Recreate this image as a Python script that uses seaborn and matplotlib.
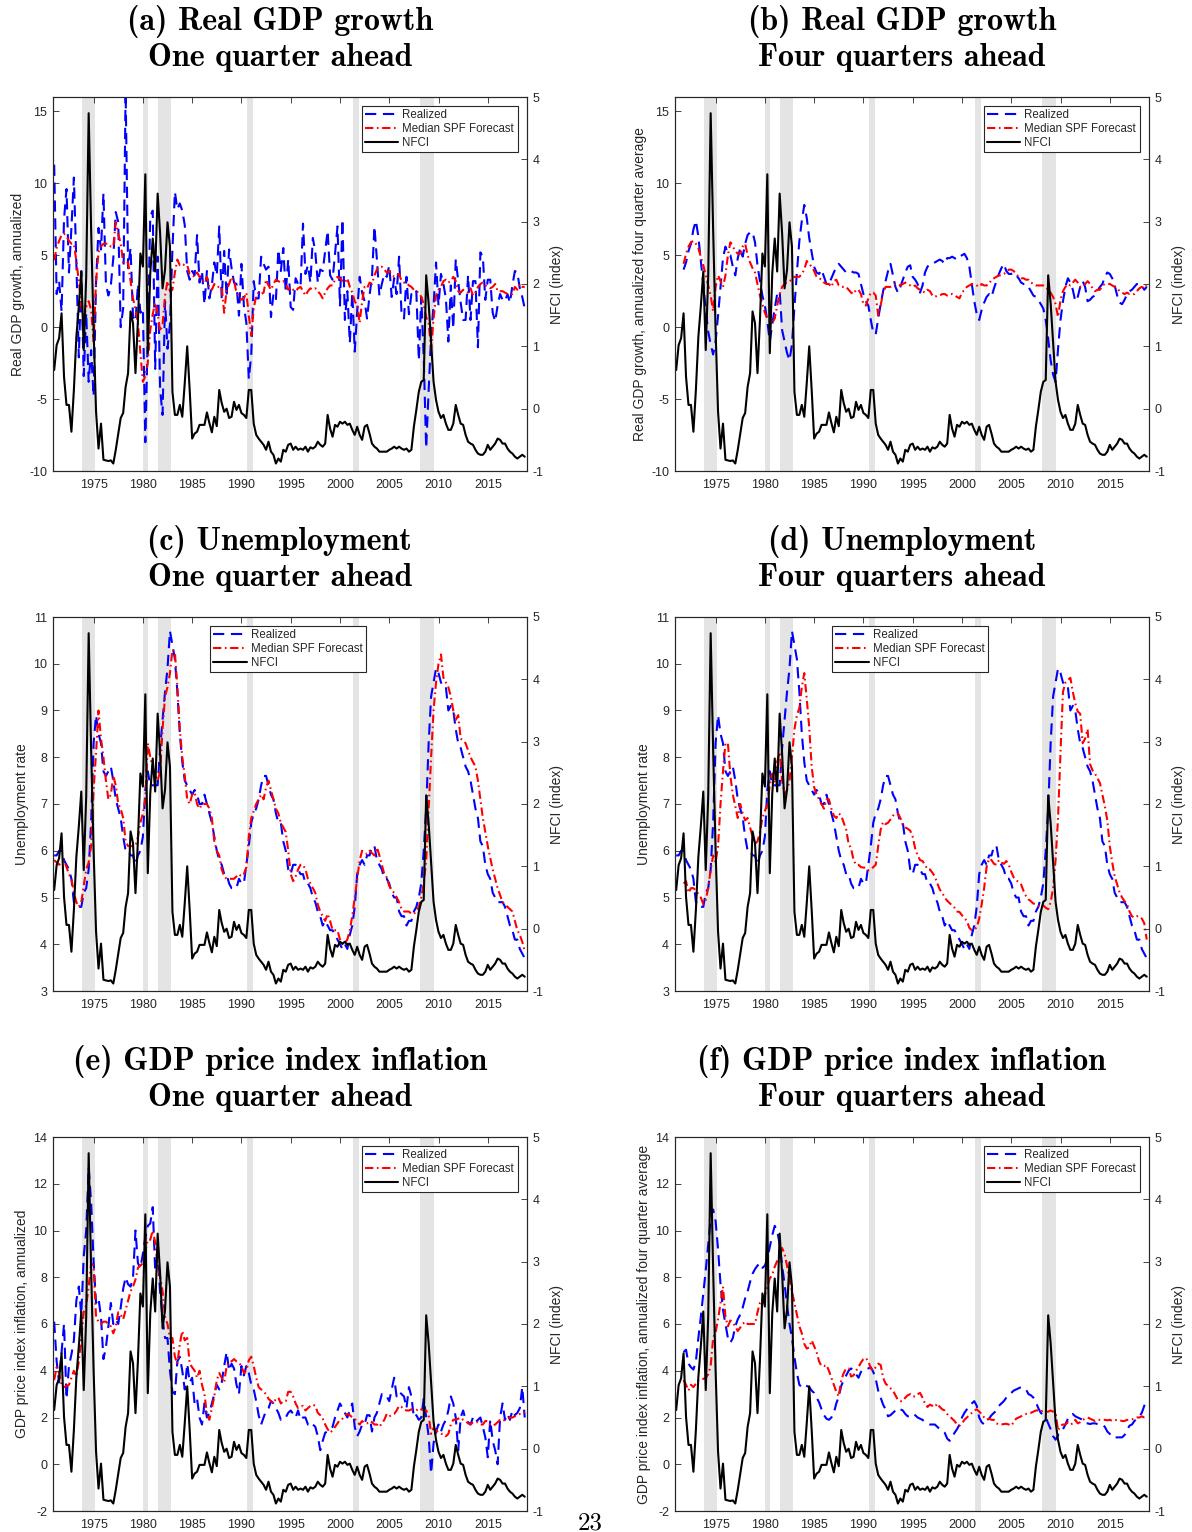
import numpy as np
import matplotlib
matplotlib.use("Agg")
import matplotlib.pyplot as plt
import seaborn as sns
from matplotlib.lines import Line2D

nan = np.nan
START_YEAR = 1971  # first quarter 1971Q1, quarterly data through 2018Q4

# ---------------- data (one row per year, 4 quarters) ----------------
NFCI = [
    0.62, 1.02, 1.13, 1.53,   0.51, 0.06, 0.06, -0.37,
    0.30, 1.15, 1.64, 2.20,   0.94, 2.12, 4.74, 2.87,
    1.26, -0.05, -0.64, -0.24, -0.82, -0.83, -0.84, -0.83,
    -0.88, -0.66, -0.40, -0.15, -0.07, 0.35, 0.57, 1.56,
    1.37, 0.57, 1.42, 2.49,   2.28, 3.76, 0.89, 2.17,
    2.73, 2.20, 3.45, 2.81,   1.93, 2.23, 2.99, 2.60,
    0.27, -0.10, -0.10, 0.06, -0.13, 0.41, 1.00, 0.30,
    -0.48, -0.40, -0.37, -0.26, -0.26, -0.26, -0.06, -0.23,
    -0.38, -0.13, -0.28, 0.30, 0.09, -0.05, 0.00, -0.15,
    -0.13, 0.11, -0.02, 0.06, -0.07, -0.10, -0.15, 0.30,
    0.30, -0.24, -0.42, -0.48, -0.53, -0.58, -0.66, -0.53,
    -0.69, -0.74, -0.88, -0.80, -0.85, -0.66, -0.69, -0.58,
    -0.56, -0.66, -0.61, -0.66, -0.64, -0.66, -0.61, -0.69,
    -0.62, -0.64, -0.61, -0.53, -0.58, -0.61, -0.56, -0.10,
    -0.32, -0.45, -0.26, -0.29, -0.21, -0.24, -0.21, -0.26,
    -0.24, -0.34, -0.42, -0.29, -0.42, -0.50, -0.29, -0.26,
    -0.40, -0.56, -0.61, -0.64, -0.69, -0.69, -0.69, -0.69,
    -0.66, -0.64, -0.61, -0.64, -0.61, -0.64, -0.66, -0.64,
    -0.69, -0.66, -0.29, -0.02, 0.27, 0.43, 0.46, 2.14,
    1.69, 1.05, 0.43, 0.14,   -0.05, -0.15, -0.10, -0.24,
    -0.34, -0.34, -0.24, 0.06, -0.10, -0.24, -0.26, -0.42,
    -0.53, -0.56, -0.58, -0.66, -0.72, -0.74, -0.74, -0.69,
    -0.58, -0.66, -0.61, -0.56, -0.48, -0.50, -0.56, -0.56,
    -0.64, -0.69, -0.72, -0.77, -0.80, -0.77, -0.74, -0.77,
]

GDP_REALIZED_1Q = [
    11.3, 2.3, 3.2, 1.1,   7.5, 9.6, 3.8, 6.9,
    10.4, 4.5, -2.1, 3.9,  -3.4, 1.0, -3.8, -1.6,
    -4.8, 3.1, 6.9, 5.4,   9.3, 3.0, 2.2, 2.9,
    4.8, 8.0, 7.3, 0.0,    1.3, 16.4, 4.1, 5.5,
    0.7, 0.4, 3.0, 1.0,    1.3, -8.0, -0.5, 7.7,
    8.1, -2.9, 4.9, -4.3,  -6.1, 1.8, -1.5, 0.2,
    5.4, 9.4, 8.2, 8.6,    8.1, 7.1, 3.9, 3.3,
    3.9, 3.6, 6.4, 3.1,    3.9, 1.6, 3.9, 2.0,
    2.9, 4.5, 3.6, 7.0,    2.0, 5.3, 2.1, 5.4,
    4.1, 3.1, 3.0, 0.8,    4.4, 1.5, 0.3, -3.6,
    -1.9, 3.2, 2.0, 2.0,   4.9, 4.4, 4.0, 4.2,
    0.7, 2.3, 1.9, 5.4,    3.9, 5.5, 2.4, 4.7,
    1.4, 1.2, 3.4, 3.0,    2.8, 7.2, 3.7, 4.3,
    3.1, 6.2, 5.2, 3.1,    4.0, 3.9, 5.3, 6.7,
    3.6, 3.3, 5.1, 7.0,    1.5, 7.5, 0.5, 2.5,
    -1.1, 2.4, -1.7, 1.1,  3.5, 2.4, 1.8, 0.6,
    2.2, 3.5, 7.0, 4.7,    2.2, 3.0, 3.7, 3.5,
    4.3, 2.1, 3.4, 2.3,    4.9, 0.9, 0.6, 3.5,
    0.9, 2.3, 2.2, 2.5,    -2.3, 2.1, -2.1, -8.4,
    -4.4, -0.6, 1.5, 4.5,  1.5, 3.7, 3.0, 2.0,
    -1.0, 2.9, -0.1, 4.7,  3.2, 1.7, 0.5, 0.5,
    3.6, 0.5, 3.2, 3.2,    -1.4, 5.2, 4.9, 1.9,
    3.3, 3.3, 1.0, 0.4,    1.5, 2.3, 1.9, 1.8,
    2.3, 1.7, 2.9, 3.9,    3.8, 2.7, 2.1, 1.3,
]

GDP_SPF_1Q = [
    4.65, 5.5, 6.0, 6.4,   6.5, 6.3, 6.0, 5.8,
    5.8, 4.6, 3.2, 1.5,    0.6, 1.4, 1.8, 1.2,
    -1.0, 3.2, 5.2, 5.6,   5.8, 5.8, 5.8, 5.6,
    5.6, 7.3, 6.5, 5.8,    4.5, 4.4, 4.5, 3.2,
    2.0, 1.2, 0.3, -1.8,   -3.8, -3.4, -2.5, -0.2,
    0.9, 1.7, 1.0, -0.3,   0.2, 2.2, 3.2, 2.5,
    2.6, 3.8, 4.7, 4.3,    4.4, 4.3, 4.3, 3.7,
    3.6, 3.5, 3.8, 3.5,    3.3, 3.1, 3.5, 2.7,
    2.6, 3.0, 2.8, 2.8,    2.8, 1.0, 2.6, 3.0,
    3.5, 3.2, 2.4, 2.2,    1.9, 2.0, 2.4, 0.8,
    -0.6, 1.3, 2.2, 2.4,   2.3, 2.4, 3.3, 2.9,
    2.6, 3.0, 3.3, 3.2,    3.1, 3.2, 3.0, 2.6,
    2.8, 2.6, 2.5, 2.7,    2.8, 2.5, 2.2, 2.5,
    2.7, 2.6, 2.7, 2.5,    2.3, 2.0, 2.4, 2.7,
    2.9, 2.9, 3.3, 3.5,    3.4, 3.2, 3.1, 3.4,
    2.8, 2.4, 1.8, 1.5,    0.3, 1.8, 2.8, 2.7,
    3.1, 3.0, 3.6, 4.0,    4.2, 4.2, 4.0, 3.8,
    3.9, 3.7, 3.5, 3.6,    3.7, 3.2, 3.1, 3.1,
    2.9, 2.8, 2.6, 2.5,    2.4, 2.1, 1.6, 0.7,
    0.3, -1.5, 0.6, 2.2,   2.6, 2.8, 3.2, 3.3,
    3.1, 3.2, 3.5, 3.2,    2.5, 2.4, 2.6, 2.5,
    2.4, 2.7, 2.2, 2.4,    2.8, 3.0, 3.1, 2.9,
    2.8, 2.7, 2.8, 3.0,    2.5, 2.5, 2.5, 2.4,
    2.3, 2.3, 2.3, 2.8,    2.6, 3.0, 2.8, 2.8,
]

GDP_REALIZED_4Q = [
    nan, nan, nan, 4.0,    4.5, 5.3, 5.8, 6.8,
    7.4, 6.3, 4.6, 3.0,    1.2, -0.3, -1.2, -1.9,
    -1.0, 0.8, 2.8, 4.8,   5.6, 5.1, 5.0, 4.2,
    3.6, 4.8, 5.5, 4.9,    5.8, 6.4, 6.6, 6.6,
    5.9, 4.3, 3.2, 2.2,    1.5, 0.4, -1.0, 0.2,
    1.3, 2.3, 2.5, -0.2,   -1.0, -1.8, -2.3, -1.2,
    1.4, 3.8, 6.0, 7.4,    8.5, 7.6, 6.2, 5.2,
    4.2, 3.8, 3.7, 4.0,    3.5, 3.0, 3.0, 3.4,
    3.8, 4.2, 4.4, 4.2,    4.0, 3.8, 3.9, 3.9,
    3.8, 3.8, 3.7, 3.0,    2.3, 1.8, 1.5, 0.5,
    -0.4, -0.5, 0.6, 1.6,  2.5, 3.2, 3.9, 4.4,
    3.6, 2.8, 2.4, 2.8,    3.3, 3.8, 4.2, 4.3,
    3.5, 3.3, 3.0, 2.4,    2.9, 3.8, 4.2, 4.4,
    4.4, 4.5, 4.6, 4.7,    4.6, 4.4, 4.8, 4.8,
    4.9, 4.8, 4.7, 4.9,    5.0, 5.1, 4.8, 4.2,
    3.0, 1.8, 0.9, 0.5,    1.2, 1.7, 2.1, 2.3,
    2.1, 2.7, 3.2, 3.7,    4.1, 4.4, 3.9, 3.7,
    3.7, 3.8, 3.6, 3.4,    3.1, 3.0, 3.0, 2.8,
    2.5, 2.2, 2.1, 1.9,    1.6, 1.3, 0.5, -0.8,
    -2.3, -3.3, -3.8, -1.5, 0.5, 1.8, 2.8, 3.4,
    3.1, 2.6, 1.8, 2.1,    2.8, 3.2, 2.8, 1.8,
    1.9, 2.1, 2.2, 2.5,    2.8, 3.0, 3.5, 3.8,
    3.7, 3.4, 2.9, 2.2,    1.7, 1.6, 1.9, 2.3,
    2.5, 2.6, 2.8, 3.0,    3.0, 2.9, 2.6, 2.8,
]

GDP_SPF_4Q = [
    nan, nan, nan, 4.4,    5.1, 5.6, 5.9, 6.0,
    5.8, 5.5, 4.9, 4.3,    3.6, 2.9, 2.2, 1.1,
    2.8, 3.6, 3.2, 2.8,    3.6, 5.0, 5.9, 5.6,
    5.3, 5.1, 5.1, 5.6,    5.8, 5.0, 4.5, 4.1,
    3.8, 3.0, 2.2, 1.6,    1.0, 0.6, 0.4, 0.3,
    0.6, 1.5, 2.3, 2.8,    3.0, 3.1, 3.2, 3.3,
    3.5, 3.5, 3.5, 3.7,    4.0, 4.6, 4.4, 4.2,
    3.9, 3.5, 3.4, 3.3,    3.1, 3.0, 3.0, 2.8,
    3.2, 3.3, 2.9, 2.8,    2.8, 2.8, 2.6, 2.4,
    2.3, 2.6, 2.6, 2.3,    1.6, 1.5, 2.0, 2.4,
    2.4, 2.2, 0.8, 1.5,    2.4, 2.8, 2.8, 2.8,
    2.9, 3.0, 3.0, 2.9,    3.0, 3.1, 3.0, 2.9,
    2.8, 2.9, 2.7, 2.6,    2.5, 2.4, 2.6, 2.5,
    2.2, 2.1, 2.2, 2.2,    2.3, 2.3, 2.2, 2.3,
    2.3, 2.2, 2.1, 2.0,    2.4, 2.6, 2.8, 2.9,
    3.0, 3.0, 2.9, 2.8,    3.0, 2.9, 2.9, 3.0,
    3.3, 3.4, 3.5, 3.6,    3.6, 3.7, 3.8, 4.0,
    4.0, 3.9, 3.7, 3.5,    3.4, 3.4, 3.3, 3.3,
    3.1, 3.0, 2.9, 2.9,    2.9, 2.9, 2.8, 2.6,
    2.4, 2.1, 1.6, 0.7,    1.9, 2.5, 2.8, 3.0,
    2.9, 3.1, 3.3, 3.1,    2.8, 2.9, 3.0, 3.2,
    3.0, 2.7, 2.5, 2.6,    2.6, 2.9, 3.0, 3.0,
    3.0, 2.9, 2.8, 2.7,    2.5, 2.4, 2.3, 2.4,
    2.3, 2.3, 2.3, 2.5,    2.7, 2.8, 2.7, 2.9,
]

UNEMP_REALIZED = [
    5.9, 5.9, 6.0, 6.0,    5.8, 5.7, 5.6, 5.4,
    4.9, 4.9, 4.8, 4.8,    5.1, 5.2, 5.6, 6.6,
    8.3, 8.9, 8.5, 8.3,    7.7, 7.6, 7.7, 7.8,
    7.5, 7.1, 6.9, 6.7,    6.3, 6.0, 6.0, 5.9,
    5.9, 5.7, 5.9, 6.0,    6.3, 7.3, 7.7, 7.4,
    7.4, 7.4, 7.4, 8.2,    8.8, 9.4, 9.9, 10.7,
    10.4, 10.1, 9.4, 8.5,  7.9, 7.5, 7.4, 7.3,
    7.2, 7.3, 7.2, 7.0,    7.0, 7.2, 7.0, 6.8,
    6.6, 6.3, 6.0, 5.8,    5.7, 5.5, 5.5, 5.3,
    5.2, 5.2, 5.2, 5.4,    5.3, 5.3, 5.7, 6.1,
    6.6, 6.8, 6.9, 7.1,    7.4, 7.6, 7.6, 7.4,
    7.2, 7.1, 6.8, 6.6,    6.6, 6.2, 6.0, 5.6,
    5.5, 5.7, 5.7, 5.6,    5.5, 5.5, 5.3, 5.3,
    5.2, 5.0, 4.9, 4.7,    4.6, 4.4, 4.5, 4.4,
    4.3, 4.3, 4.2, 4.1,    4.0, 3.9, 4.0, 3.9,
    4.2, 4.4, 4.8, 5.5,    5.7, 5.8, 5.7, 5.9,
    5.9, 6.1, 6.1, 5.8,    5.7, 5.6, 5.4, 5.4,
    5.3, 5.1, 5.0, 5.0,    4.7, 4.6, 4.6, 4.4,
    4.5, 4.5, 4.7, 4.8,    5.0, 5.3, 6.0, 6.9,
    8.3, 9.3, 9.6, 9.9,    9.8, 9.6, 9.5, 9.5,
    9.0, 9.1, 9.0, 8.6,    8.3, 8.2, 8.0, 7.8,
    7.7, 7.5, 7.2, 6.9,    6.7, 6.2, 6.1, 5.7,
    5.5, 5.4, 5.1, 5.0,    4.9, 4.9, 4.9, 4.8,
    4.6, 4.4, 4.3, 4.1,    4.1, 3.9, 3.8, 3.7,
]

UNEMP_SPF_1Q = [
    5.8, 5.75, 5.7, 5.75,  5.8, 5.65, 5.5, 5.4,
    5.1, 4.9, 4.8, 4.9,    5.25, 5.6, 5.75, 6.1,
    7.3, 8.1, 9.0, 8.4,    8.0, 7.5, 7.1, 7.2,
    7.6, 7.4, 7.0, 6.9,    6.7, 6.2, 6.1, 6.1,
    6.1, 6.1, 6.3, 6.6,    6.8, 7.1, 8.3, 8.0,
    7.8, 7.6, 7.5, 7.7,    8.6, 9.3, 9.5, 9.8,
    10.3, 10.25, 9.5, 8.6, 8.0, 7.6, 7.1, 7.0,
    7.2, 7.25, 7.0, 6.9,   7.0, 7.0, 7.0, 6.9,
    6.7, 6.2, 6.0, 5.9,    5.6, 5.45, 5.4, 5.4,
    5.4, 5.4, 5.45, 5.5,   5.45, 5.5, 5.65, 6.3,
    6.7, 6.85, 7.0, 7.1,   7.2, 7.1, 7.35, 7.5,
    7.3, 7.1, 6.9, 6.8,    6.6, 6.5, 6.4, 6.0,
    5.5, 5.35, 5.45, 5.6,  5.7, 5.7, 5.6, 5.4,
    5.3, 5.2, 5.1, 4.85,   4.7, 4.6, 4.5, 4.65,
    4.5, 4.3, 4.3, 4.3,    4.1, 4.0, 4.03, 4.1,
    4.3, 4.6, 5.0, 5.4,    5.8, 6.0, 5.95, 5.93,
    6.0, 5.95, 5.9, 6.07,  5.9, 5.7, 5.5, 5.43,
    5.25, 5.15, 5.1, 5.0,  4.9, 4.75, 4.7, 4.7,
    4.7, 4.65, 4.65, 4.7,  4.8, 5.0, 5.3, 5.8,
    6.9, 8.0, 9.0, 9.6,    10.0, 10.2, 9.7, 9.6,
    9.5, 9.3, 9.0, 8.8,    8.9, 8.4, 8.35, 8.3,
    8.15, 8.0, 7.9, 7.8,   7.5, 7.1, 6.7, 6.4,
    6.1, 5.85, 5.6, 5.4,   5.2, 5.05, 4.9, 4.85,
    4.8, 4.75, 4.7, 4.5,   4.3, 4.2, 4.05, 3.85,
]

UNEMP_SPF_4Q = [
    nan, nan, nan, 5.3,    5.35, 5.1, 5.2, 5.2,
    5.15, 5.07, 5.0, 4.86, 4.95, 5.2, 5.6, 5.9,
    5.75, 6.1, 7.0, 7.7,   8.3, 8.3, 7.6, 7.2,
    6.95, 6.7, 7.0, 6.8,   6.65, 6.7, 6.5, 6.3,
    6.15, 6.2, 6.4, 6.7,   6.85, 7.0, 7.4, 7.65,
    7.45, 7.9, 8.1, 7.5,   7.2, 7.3, 7.5, 8.0,
    8.6, 8.9, 9.05, 9.5,   9.8, 9.25, 8.64, 7.8,
    7.36, 7.2, 7.1, 7.0,   6.9, 7.1, 7.1, 6.9,
    6.75, 6.7, 6.8, 6.75,  6.6, 6.45, 6.15, 6.05,
    5.8, 5.7, 5.7, 5.65,   5.64, 5.64, 5.58, 5.6,
    5.65, 5.7, 6.1, 6.45,  6.62, 6.57, 6.6, 6.67,
    6.75, 6.8, 6.8, 6.7,   6.55, 6.5, 6.47, 6.43,
    6.3, 6.05, 5.9, 5.8,   5.78, 5.7, 5.6, 5.6,
    5.53, 5.45, 5.3, 5.17, 5.1, 5.0, 4.93, 4.88,
    4.83, 4.78, 4.7, 4.69, 4.62, 4.56, 4.5, 4.35,
    4.3, 4.32, 4.36, 4.55, 4.85, 5.2, 5.65, 5.83,
    5.8, 5.72, 5.7, 5.8,   5.75, 5.72, 5.78, 5.7,
    5.55, 5.43, 5.38, 5.32, 5.28, 5.14, 5.03, 4.96,
    4.92, 4.87, 4.86, 4.82, 4.8, 4.83, 4.78, 4.75,
    4.9, 5.2, 5.8, 6.7,    8.1, 9.4, 9.6, 9.65,
    9.7, 9.4, 9.15, 8.98,  8.93, 8.3, 8.4, 8.6,
    7.85, 7.72, 7.65, 7.55, 7.45, 7.2, 6.95, 6.65,
    6.1, 5.75, 5.45, 5.28, 5.1, 5.0, 4.92, 4.86,
    4.7, 4.6, 4.57, 4.6,   4.6, 4.55, 4.45, 4.1,
]

INFL_REALIZED_1Q = [
    6.1, 4.4, 3.5, 4.8,    6.0, 2.8, 4.2, 4.7,
    5.3, 7.0, 7.6, 6.4,    8.9, 10.0, 12.7, 11.2,
    8.7, 6.9, 7.1, 6.3,    4.5, 5.0, 5.9, 6.9,
    6.0, 6.2, 6.0, 6.7,    7.5, 8.0, 7.7, 7.6,
    8.0, 10.0, 8.6, 8.4,   9.0, 9.7, 10.2, 10.3,
    11.0, 8.3, 8.9, 7.4,   6.2, 5.4, 5.4, 4.0,
    3.1, 3.0, 4.4, 4.6,    4.0, 3.2, 4.3, 3.5,
    3.7, 2.6, 2.8, 2.0,    1.7, 2.6, 2.0, 2.2,
    2.6, 3.0, 3.4, 3.2,    3.5, 4.2, 4.8, 4.0,
    4.3, 4.1, 3.4, 3.0,    4.2, 3.8, 4.2, 3.9,
    3.4, 3.2, 2.7, 2.1,    1.7, 2.0, 2.3, 2.4,
    2.7, 2.6, 2.4, 2.2,    1.9, 2.0, 2.0, 2.2,
    2.3, 2.15, 2.0, 2.3,   1.9, 2.0, 2.0, 1.7,
    1.8, 1.7, 1.6, 1.2,    0.6, 1.0, 1.35, 1.4,
    1.5, 1.6, 2.0, 2.3,    2.6, 2.4, 2.2, 2.0,
    2.3, 2.6, 1.6, 1.2,    1.4, 1.7, 1.7, 2.1,
    2.1, 1.4, 2.0, 2.2,    2.6, 3.0, 2.9, 2.9,
    2.7, 3.2, 3.7, 2.9,    3.1, 3.0, 2.9, 2.4,
    3.3, 2.9, 2.0, 2.1,    1.9, 2.0, 2.8, 2.0,
    1.2, -0.4, 0.9, 1.4,   1.7, 1.4, 1.7, 1.9,
    2.3, 2.9, 2.6, 2.0,    0.6, 2.0, 2.3, 1.9,
    1.8, 1.7, 2.0, 1.8,    1.9, 2.0, 1.6, 1.15,
    0.3, 1.9, 1.0, 0.6,    0.0, 2.0, 2.6, 1.9,
    2.15, 1.9, 2.3, 2.1,   2.2, 2.4, 3.3, 2.0,
]

INFL_SPF_1Q = [
    3.6, 4.15, 3.9, 3.4,   3.3, 3.35, 3.4, 3.7,
    4.0, 3.75, 4.4, 5.4,   6.5, 6.8, 7.6, 8.6,
    8.5, 6.3, 6.1, 6.0,    6.1, 6.1, 6.0, 5.9,
    5.6, 5.9, 6.5, 6.4,    6.2, 6.6, 7.0, 7.4,
    7.6, 7.9, 8.4, 8.5,    8.6, 9.1, 9.6, 9.6,
    10.0, 9.5, 8.5, 8.0,   7.4, 6.3, 6.0, 5.4,
    5.4, 4.6, 4.3, 5.15,   5.7, 5.3, 5.4, 4.3,
    4.15, 4.0, 3.7, 4.0,   3.4, 3.0, 2.15, 1.9,
    2.4, 2.9, 3.6, 3.9,    3.7, 3.5, 4.2, 4.4,
    4.4, 4.5, 4.4, 4.35,   4.2, 3.9, 4.0, 4.45,
    4.6, 4.2, 3.7, 3.3,    3.2, 3.1, 3.0, 2.8,
    2.7, 2.6, 2.8, 2.85,   2.6, 2.7, 2.7, 3.1,
    3.1, 2.9, 2.6, 2.4,    2.45, 2.5, 2.3, 2.4,
    2.5, 2.55, 2.5, 2.2,   2.1, 1.95, 1.7, 1.5,
    1.35, 1.45, 1.6, 1.75, 1.9, 1.95, 2.1, 2.15,
    2.1, 2.0, 1.95, 1.8,   1.7, 1.85, 1.75, 1.75,
    1.85, 1.8, 1.7, 1.7,   1.6, 1.75, 1.9, 2.15,
    2.05, 2.1, 2.15, 2.3,  2.5, 2.45, 2.35, 2.3,
    2.3, 2.35, 2.3, 2.3,   2.4, 2.35, 2.3, 2.3,
    2.1, 1.3, 1.55, 1.45,  1.35, 1.3, 1.3, 1.2,
    1.3, 1.7, 1.9, 1.9,    1.95, 2.0, 1.9, 1.85,
    1.75, 1.7, 1.8, 1.8,   1.8, 1.7, 1.7, 1.85,
    1.85, 1.7, 1.65, 1.7,  1.8, 1.9, 1.85, 1.9,
    1.95, 2.0, 2.0, 2.05,  2.1, 2.15, 2.15, 2.25,
]

INFL_REALIZED_4Q = [
    nan, nan, nan, 4.8,    4.9, 4.3, 4.15, 4.05,
    4.4, 5.4, 6.3, 7.3,    8.3, 9.4, 10.5, 10.9,
    10.4, 9.2, 7.7, 6.6,   6.0, 5.4, 5.2, 5.4,
    5.9, 6.2, 6.4, 6.7,    7.1, 7.4, 7.8, 8.15,
    8.35, 8.5, 8.6, 8.4,   8.5, 8.8, 9.3, 9.8,
    10.2, 10.0, 9.4, 8.5,  7.7, 6.8, 6.0, 5.4,
    4.6, 3.9, 3.4, 3.3,    3.4, 3.35, 3.3, 3.15,
    3.05, 2.85, 2.65, 2.35, 2.1, 1.95, 1.9, 2.0,
    2.2, 2.6, 2.9, 3.35,   3.6, 3.8, 4.0, 4.1,
    4.0, 3.85, 3.7, 3.95,  4.05, 4.1, 4.1, 4.15,
    3.95, 3.65, 3.15, 2.85, 2.55, 2.35, 2.05, 2.1,
    2.2, 2.3, 2.4, 2.35,   2.3, 2.15, 2.05, 2.05,
    2.15, 2.1, 2.0, 1.95,  1.9, 1.8, 1.75, 1.7,
    1.7, 1.7, 1.6, 1.5,    1.45, 1.35, 1.1, 1.0,
    1.15, 1.35, 1.5, 1.7,  2.0, 2.2, 2.35, 2.5,
    2.6, 2.7, 2.5, 2.0,    1.8, 1.7, 1.85, 1.95,
    2.1, 2.2, 2.3, 2.5,    2.6, 2.7, 2.85, 2.95,
    3.05, 3.15, 3.2, 3.25, 3.3, 3.25, 3.2, 3.0,
    2.95, 2.85, 2.65, 2.4, 2.2, 2.1, 2.0, 1.75,
    1.5, 1.2, 1.05, 1.25,  1.35, 1.5, 1.7, 1.95,
    2.1, 2.15, 2.05, 2.0,  1.95, 1.9, 1.75, 1.75,
    1.72, 1.75, 1.75, 1.72, 1.7, 1.7, 1.6, 1.4,
    1.3, 1.15, 1.15, 1.15, 1.15, 1.15, 1.25, 1.45,
    1.65, 1.7, 1.85, 1.95, 2.05, 2.2, 2.5, 2.8,
]

INFL_SPF_4Q = [
    nan, nan, nan, 3.6,    3.4, 3.15, 3.4, 3.3,
    3.45, 3.6, 3.65, 3.65, 3.7, 3.85, 4.2, 5.4,
    5.65, 6.2, 6.9, 7.6,   6.3, 5.9, 6.15, 6.05,
    5.9, 5.7, 5.85, 6.0,   6.1, 6.0, 6.0, 6.0,
    6.0, 6.5, 6.9, 7.0,    7.25, 7.6, 7.95, 8.1,
    8.45, 8.7, 8.9, 9.25,  9.0, 8.5, 7.9, 7.4,
    6.9, 6.4, 5.9, 5.6,    5.15, 4.95, 5.0, 5.3,
    5.05, 4.8, 4.4, 4.2,   4.2, 4.25, 4.0, 3.7,
    3.4, 3.1, 2.9, 3.6,    3.9, 4.1, 4.1, 3.75,
    3.8, 4.0, 4.15, 4.35,  4.5, 4.55, 4.4, 4.1,
    4.0, 4.15, 4.3, 4.25,  3.7, 3.45, 3.35, 3.25,
    3.15, 2.95, 2.75, 2.7, 2.7, 2.85, 2.95, 3.0,
    2.9, 2.9, 3.0, 3.05,   2.85, 2.6, 2.45, 2.55,
    2.5, 2.45, 2.6, 2.45,  2.35, 2.3, 2.15, 2.05,
    1.95, 1.85, 1.7, 1.65, 1.75, 1.9, 2.0, 2.1,
    2.2, 2.3, 2.35, 2.25,  2.15, 2.0, 1.9, 1.95,
    1.9, 1.9, 1.75, 1.7,   1.7, 1.72, 1.73, 1.7,
    1.65, 1.8, 1.95, 2.0,  2.05, 2.1, 2.15, 2.2,
    2.2, 2.25, 2.3, 2.3,   2.25, 2.3, 2.25, 2.25,
    2.3, 2.25, 2.2, 1.45,  1.65, 1.7, 1.7, 1.8,
    1.7, 1.75, 1.9, 1.75,  1.8, 1.9, 1.95, 2.0,
    1.95, 1.9, 1.85, 1.9,  1.9, 1.9, 1.9, 1.88,
    1.9, 1.85, 1.88, 1.9,  1.88, 1.85, 1.85, 1.9,
    1.9, 1.92, 1.95, 2.0,  2.0, 2.05, 2.0, 2.0,
]

RECESSION_START = [1973.8, 1980.0, 1981.55, 1990.55, 2001.3, 2008.1]
RECESSION_END = [1975.1, 1980.5, 1982.85, 1991.2, 2001.95, 2009.55]

LEGEND_LABELS = ["Realized", "Median SPF Forecast", "NFCI"]

# ---------------- style ----------------
sns.set_style("white")
plt.rcParams["font.family"] = ["Liberation Sans", "DejaVu Sans"]
plt.rcParams["axes.unicode_minus"] = False

W, H = 1192, 1532
AXW, AXH = 474, 374
AX_COLOR = "#262626"
BLUE_LS = (0, (5.4, 3.2))
RED_LS = (0, (4.0, 1.7, 0.8, 1.7))
LW = 1.5
TITLE_SIZE = 23

quarters = START_YEAR + np.arange(len(NFCI)) / 4.0

panels = [
    dict(t1="(a) Real GDP growth", t2="One quarter ahead", x0=52.7, y0=97,
         real=GDP_REALIZED_1Q, spf=GDP_SPF_1Q, ylim=(-10, 16), yt=[-10, -5, 0, 5, 10, 15],
         ylabel="Real GDP growth, annualized", leg="right"),
    dict(t1="(b) Real GDP growth", t2="Four quarters ahead", x0=674.7, y0=97,
         real=GDP_REALIZED_4Q, spf=GDP_SPF_4Q, ylim=(-10, 16), yt=[-10, -5, 0, 5, 10, 15],
         ylabel="Real GDP growth, annualized four quarter average", leg="right"),
    dict(t1="(c) Unemployment", t2="One quarter ahead", x0=52.7, y0=617,
         real=UNEMP_REALIZED, spf=UNEMP_SPF_1Q, ylim=(3, 11), yt=list(range(3, 12)),
         ylabel="Unemployment rate", leg="center"),
    dict(t1="(d) Unemployment", t2="Four quarters ahead", x0=674.7, y0=617,
         real=UNEMP_REALIZED, spf=UNEMP_SPF_4Q, ylim=(3, 11), yt=list(range(3, 12)),
         ylabel="Unemployment rate", leg="center"),
    dict(t1="(e) GDP price index inflation", t2="One quarter ahead", x0=52.7, y0=1137,
         real=INFL_REALIZED_1Q, spf=INFL_SPF_1Q, ylim=(-2, 14), yt=list(range(-2, 15, 2)),
         ylabel="GDP price index inflation, annualized", leg="right"),
    dict(t1="(f) GDP price index inflation", t2="Four quarters ahead", x0=674.7, y0=1137,
         real=INFL_REALIZED_4Q, spf=INFL_SPF_4Q, ylim=(-2, 14), yt=list(range(-2, 15, 2)),
         ylabel="GDP price index inflation, annualized four quarter average", leg="right"),
]

fig = plt.figure(figsize=(W / 100, H / 100), dpi=100)
fig.patch.set_facecolor("white")

for p in panels:
    ax = fig.add_axes([p["x0"] / W, 1 - (p["y0"] + AXH) / H, AXW / W, AXH / H])
    for s, e in zip(RECESSION_START, RECESSION_END):
        ax.axvspan(s, e, color="#e4e4e4", lw=0, zorder=0)
    sns.lineplot(x=quarters, y=p["real"], ax=ax, color="#0000ff", lw=LW,
                 linestyle=BLUE_LS, estimator=None, sort=False, legend=False)
    sns.lineplot(x=quarters, y=p["spf"], ax=ax, color="#ff0000", lw=LW,
                 linestyle=RED_LS, estimator=None, sort=False, legend=False)
    ax2 = ax.twinx()
    sns.lineplot(x=quarters, y=NFCI, ax=ax2, color="black", lw=LW,
                 estimator=None, sort=False, legend=False)

    ax.set_xlim(1970.85, 2018.95)
    ax.set_xticks(list(range(1975, 2016, 5)))
    ax.set_ylim(*p["ylim"])
    ax.set_yticks(p["yt"])
    ax2.set_ylim(-1, 5)
    ax2.set_yticks(list(range(-1, 6)))

    ax.tick_params(axis="both", direction="in", length=4, width=0.6, colors=AX_COLOR,
                   labelsize=9, top=True, right=False, pad=4)
    ax.tick_params(axis="x", pad=6)
    ax2.tick_params(axis="y", direction="in", length=4, width=0.6, colors=AX_COLOR,
                    labelsize=9, pad=4)
    for a in (ax, ax2):
        for sp in a.spines.values():
            sp.set_color(AX_COLOR)
            sp.set_linewidth(0.8)
    ax.set_xlabel("")
    ax.set_ylabel(p["ylabel"], fontsize=10, color=AX_COLOR, labelpad=3)
    ax2.set_ylabel("NFCI (index)", fontsize=10, color=AX_COLOR, labelpad=5)

    handles = [Line2D([], [], color="#0000ff", lw=LW, linestyle=BLUE_LS),
               Line2D([], [], color="#ff0000", lw=LW, linestyle=RED_LS),
               Line2D([], [], color="black", lw=LW)]
    if p["leg"] == "right":
        loc, anchor = "upper right", (1 - 9 / AXW, 1 - 9 / AXH)
    else:
        loc, anchor = "upper left", ((210 - 52.7) / AXW, 1 - 9 / AXH)
    leg = ax2.legend(handles, LEGEND_LABELS, loc=loc, bbox_to_anchor=anchor,
                     borderaxespad=0, fontsize=8.3, frameon=True, fancybox=False,
                     edgecolor=AX_COLOR, framealpha=1, handlelength=2.9,
                     handletextpad=0.35, borderpad=0.3, labelspacing=0.15)
    leg.get_frame().set_linewidth(0.8)

    cx = (p["x0"] + AXW / 2 - 10) / W
    fig.text(cx, 1 - (p["y0"] - 67) / H, p["t1"], ha="center", va="baseline",
             fontsize=TITLE_SIZE, family="cmb10", color="black")
    fig.text(cx, 1 - (p["y0"] - 31) / H, p["t2"], ha="center", va="baseline",
             fontsize=TITLE_SIZE, family="cmb10", color="black")

fig.text(590 / W, 1 - 1529 / H, "23", ha="center", va="baseline",
         fontsize=18, family="cmr10", color="black")

fig.savefig("out.png", dpi=100, facecolor="white")
